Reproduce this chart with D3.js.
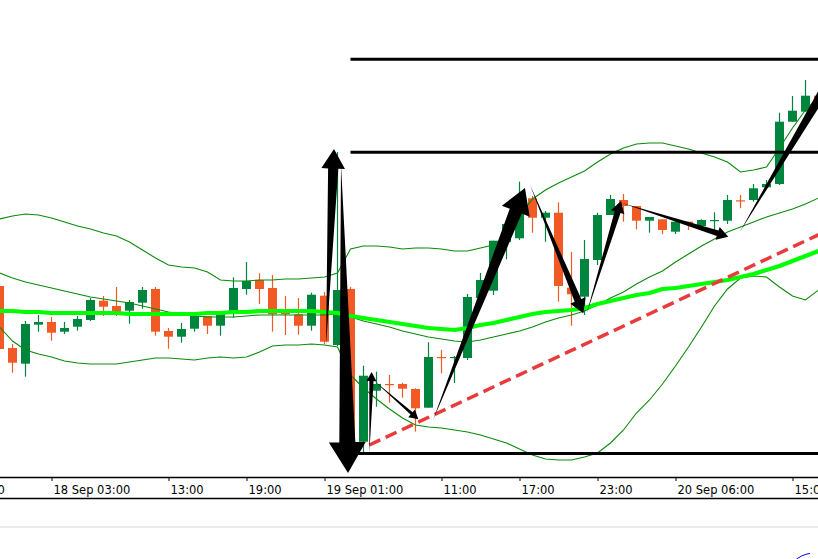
<!DOCTYPE html>
<html><head><meta charset="utf-8">
<script src="https://cdn.jsdelivr.net/npm/d3@7"></script>
<style>html,body{margin:0;padding:0;background:#fff;overflow:hidden}</style>
</head><body><svg id="chart" width="818" height="559"></svg>
<script>
// ---- data (price in points) ----
const firstIndex = -1;
const opens  = [214,152,136.3,175.3,178,168.3,173.3,180,199.3,194,189.3,197.3,211,169,163.3,171.3,184,174.3,187.7,211,220,212,187.7,185.7,174.3,204.3,155,211,58.3,109.3,116,116,111,92.3,143,142,142,202,209.3,258,261.7,301.7,282.3,287.3,212.3,203.3,240,285,300,294,279.3,280.7,268.3,278.3,274,279.5,279.3,299.7,300,312.7,316,378.3,388.3,404.3];
const highs  = [216,156,179,185,183,178,184,202,204,213,200,213,213,172,177,188,184,188,222.7,238,226.7,225,204,202,207.3,208,348,213,134.3,128.3,125,117.3,111.7,157.7,150,144,206,227,259.3,280,318.3,304,289,297.7,248.3,260,287.3,305,306,294,283,280.7,280.7,278.3,280.7,287.7,305,305,316,320,387.3,404,420,408];
const lows   = [150,127.3,123.3,168.3,159.3,166,169.3,179,184,184,176.3,191.3,164.3,151.3,157.3,168.3,166,164.3,182.3,205.3,196,168.3,165,165.3,169.3,156,154,47,48,93.3,97.3,102.3,68.3,92.3,126.7,117,140,200,205,240.7,260,267.3,258.3,198.3,174.3,185,235,285,278.3,270.7,267.3,266,266,270,273.3,266.7,276,291.7,298.3,312.7,315,378.3,388.3,395];
const closes = [151,137.3,176,178,167.3,172,181,200,193.3,188,198,210,168.3,163.3,171,184,174.3,187.7,212,219,211,185.7,185.7,174.3,205.3,158.3,210,59,124.3,116,115,111.3,91.7,143,142,143,203,220,259.3,276,303.3,282.3,287.3,214,205.7,241,285,301,294,279.3,283,270,278.3,276.7,280,280,300,299,311.7,316,378.3,389.3,404.3,397];

const bbUpper  = [281,284,286,285,282,278,274,271,267,264,258,250,242,235,233,232,228,220,219,219,220,220,221,221,222,223,227,251,254,254,253,251,252,252,251,249,249,252,255,260,284,301,310,317,323,329,338,346,352,356,357,357,354,351,347,343,338,328,330,333,352,372,390,403];
const bbMiddle = [227,222,218,215,212,209,206,203,201,199,197,194,191,188,186,184,183,183,183,184,185,185,185,185,185,185,186,183,179,176,173,169,166,163,161,159,158,160,163,166,169,173,178,182,185,189,195,202,208,216,223,229,238,246,254,261,268,273,278,283,287,291,296,302];
const bbLower  = [173,159,150,146,143,139,137,136,136,136,138,140,142,142,141,140,142,143,142,143,148,154,155,155,156,155,153,125,112,101,91,82,75,73,72,70,68,65,61,57,51,45,41,40,40,43,47,57,70,87,100,116,134,153,173,194,211,222,224,223,213,204,200,210];
const maSlow   = [189,189,188,188,187,187,187,187,187,187,186,186,186,186,186,186,187,187,188,188,189,189,189,189,189,188,187,184,182,180,178,176,174,172,171,170,172,175,177,180,183,186,188,189,190,192,196,199,202,205,207,211,212,214,216,218,220,223,226,230,234,239,244,249];

const tickIndex  = [-3.3, 3, 12, 18, 24, 33, 39, 45, 51, 60];
const tickLabels = ["21:00","18 Sep 03:00","13:00","19:00","19 Sep 01:00","11:00","17:00","23:00","20 Sep 06:00","15:00"];

const levelStart = 26;
const levels = [440.7, 347.7, 46.5];

const trendFrom = [27.45, 55];
const trendTo   = [63, 271.3];

// arrows: [fromIndex, fromPrice, toIndex, toPrice]
const arrows = [
  [24.12,155,24.73,351],
  [25.27,335,25.81,27],
  [27.45,47,27.63,128],
  [27.75,120,31.22,80.7],
  [32.35,80,39.42,312],
  [39.81,315,43.91,186.7],
  [44.17,186.7,46.81,299],
  [46.88,297,55.06,263.3],
  [55.96,268.3,64.04,445]
];

const subIndex = [60.3, 60.7, 61.1, 61.35];
const subValues = [0, 3, 5, 5.5];

// ---- drawing ----
const W = 818, H = 559, plotBottom = 477;
const svg = d3.select("#chart");
svg.append("rect").attr("width", W).attr("height", H).attr("fill", "#fff");

const x = d3.scaleLinear().domain([-1, 62]).range([-0.5, 818.5]);
const y = d3.scaleLinear().domain([23, 500]).range([plotBottom, 0]);

svg.append("clipPath").attr("id","plotclip").append("rect")
  .attr("x",0).attr("y",0).attr("width",W).attr("height",plotBottom);
const plot = svg.append("g").attr("clip-path","url(#plotclip)");

const idx = opens.map((d,k)=>k+firstIndex);
const GREEN = "#00853f", RED = "#f15a24";

// candles
const cg = plot.append("g");
idx.forEach((i,k)=>{
  const o=opens[k], c=closes[k], hi=highs[k], lo=lows[k];
  const col = c >= o ? GREEN : RED;
  const cx = x(i);
  cg.append("line").attr("x1",cx).attr("x2",cx).attr("y1",y(hi)).attr("y2",y(lo))
    .attr("stroke",col).attr("stroke-width",1.2);
  const top = y(Math.max(o,c)), bot = y(Math.min(o,c));
  cg.append("rect").attr("x",cx-4.5).attr("width",9)
    .attr("y",top).attr("height",Math.max(1.2, bot-top)).attr("fill",col);
});

// bands
const lineGen = arr => d3.line().x((d,k)=>x(k+firstIndex)).y(d=>y(d))(arr);
[bbUpper,bbMiddle,bbLower].forEach(arr=>{
  plot.append("path").attr("d",lineGen(arr)).attr("fill","none")
    .attr("stroke","#0a8a0a").attr("stroke-width",1.1);
});
plot.append("path").attr("d",lineGen(maSlow)).attr("fill","none")
  .attr("stroke","#00ff00").attr("stroke-width",4.2).attr("stroke-linejoin","round");

// trendline
plot.append("line").attr("x1",x(trendFrom[0])).attr("y1",y(trendFrom[1]))
  .attr("x2",x(trendTo[0])).attr("y2",y(trendTo[1]))
  .attr("stroke","#e83c3c").attr("stroke-width",3.5).attr("stroke-dasharray","12,6");

// horizontal levels
levels.forEach(v=>{
  plot.append("line").attr("x1",x(levelStart)).attr("x2",W+2)
    .attr("y1",y(v)).attr("y2",y(v)).attr("stroke","#000").attr("stroke-width",3);
});

// arrows
arrows.forEach(a=>{
  const x0=x(a[0]), y0=y(a[1]), x1=x(a[2]), y1=y(a[3]);
  const dx=x1-x0, dy=y1-y0, L=Math.hypot(dx,dy);
  const ux=dx/L, uy=dy/L, nx=-uy, ny=ux;
  const hl=Math.max(0.1*L,9), hh=Math.max(0.06*L,5), sh=Math.max(0.026*L,1.4);
  const bx=x1-ux*hl, by=y1-uy*hl;
  const pts=[[x0,y0],[bx+nx*sh,by+ny*sh],[bx+nx*hh,by+ny*hh],[x1,y1],
             [bx-nx*hh,by-ny*hh],[bx-nx*sh,by-ny*sh]];
  plot.append("path").attr("d","M"+pts.map(p=>p.join(",")).join("L")+"Z")
    .attr("fill","#000");
});

// axis
const axis = d3.axisBottom(x).tickValues(tickIndex)
  .tickFormat((d,k)=>tickLabels[k]).tickSize(4).tickSizeOuter(0);
const ag = svg.append("g").attr("transform",`translate(0,${plotBottom})`).call(axis);
ag.select(".domain").remove();
ag.selectAll(".tick line").attr("stroke","#000").attr("stroke-width",1);
ag.selectAll(".tick text").attr("text-anchor","start").attr("x",1.5).attr("y",17).attr("dy",0)
  .attr("fill","#000").style("font-family","'DejaVu Sans', sans-serif").style("font-size","11.5px");
svg.append("line").attr("x1",0).attr("x2",W).attr("y1",plotBottom+0.5).attr("y2",plotBottom+0.5)
  .attr("stroke","#000").attr("stroke-width",1.5);
svg.append("line").attr("x1",0).attr("x2",W).attr("y1",498.5).attr("y2",498.5)
  .attr("stroke","#000").attr("stroke-width",1.5);
svg.append("line").attr("x1",0).attr("x2",W).attr("y1",527).attr("y2",527)
  .attr("stroke","#e4e4e4").attr("stroke-width",1.5);

// sub-window indicator fragment
const ys = d3.scaleLinear().domain([0,6]).range([559,553]);
svg.append("path").attr("d", d3.line().x((d,k)=>x(subIndex[k])).y(d=>ys(d))(subValues))
  .attr("fill","none").attr("stroke","#0000ff").attr("stroke-width",1);
</script></body></html>
